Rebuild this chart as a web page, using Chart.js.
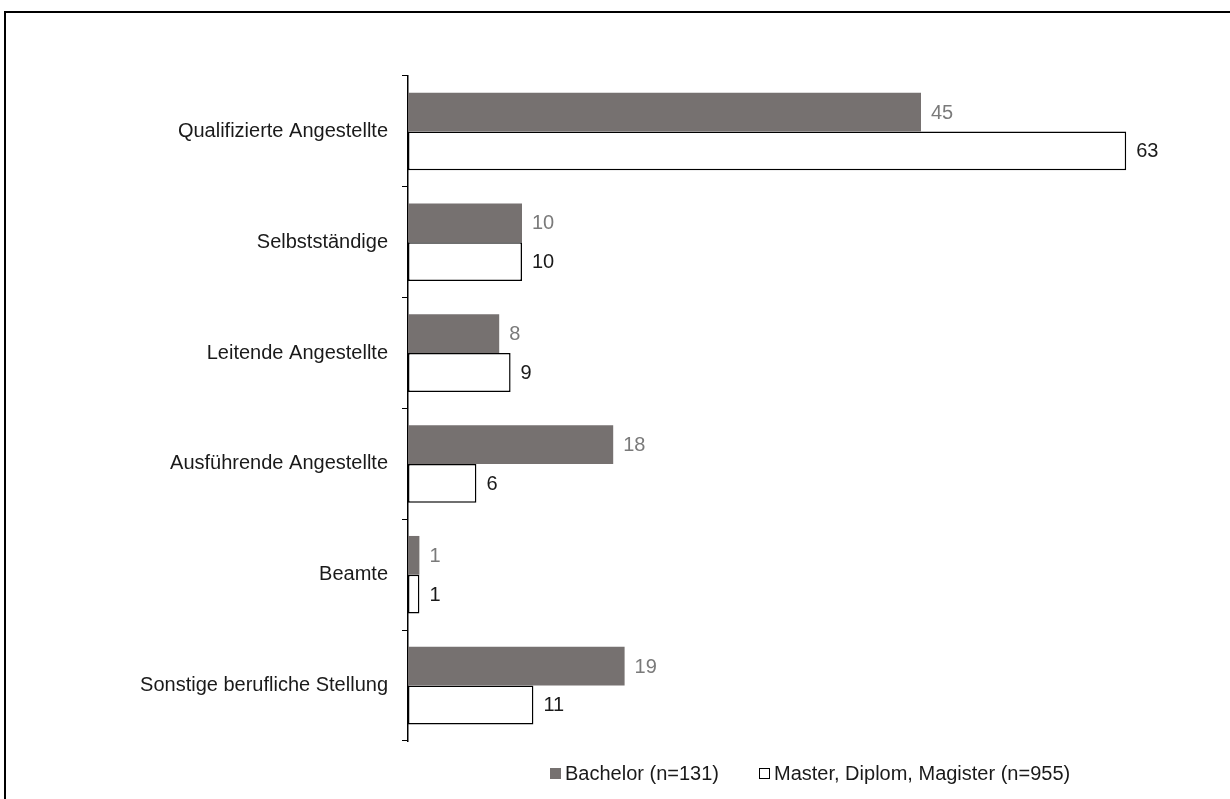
<!DOCTYPE html>
<html>
<head>
<meta charset="utf-8">
<script src="https://cdn.jsdelivr.net/npm/chart.js@4.4.1/dist/chart.umd.min.js"></script>
<style>
  html, body { margin: 0; padding: 0; background: #fff; overflow: hidden; }
  #wrap { position: relative; width: 1230px; height: 799px; }
  #frame { position: absolute; left: 4px; top: 11px; width: 1240px; height: 820px;
           border: 2px solid #000; box-sizing: border-box; }
  #chart { position: absolute; left: 0; top: 0; }
  #legend { position: absolute; left: 550px; top: 762px; display: flex; align-items: center;
            font-family: "Liberation Sans", Arial, sans-serif; font-size: 20px; color: #1a1a1a; }
  .item { display: flex; align-items: center; margin-right: 40px; }
  .box { width: 11px; height: 11px; box-sizing: border-box; margin-right: 4px; }
</style>
</head>
<body>
<div id="wrap">
  <div id="frame"></div>
  <canvas id="chart" width="1230" height="799"></canvas>
  <div id="legend"></div>
</div>
<script>
const categories = [
  "Qualifizierte Angestellte",
  "Selbstständige",
  "Leitende Angestellte",
  "Ausführende Angestellte",
  "Beamte",
  "Sonstige berufliche Stellung"
];
const bachelorValues = [45, 10, 8, 18, 1, 19];
const masterValues = [63, 10, 9, 6, 1, 11];
const seriesLabels = ["Bachelor (n=131)", "Master, Diplom, Magister (n=955)"];

const FONT = "'Liberation Sans', Arial, sans-serif";
const FONT_SIZE = 20;
const GREY = "#767170";

// writes each bar's value just past its end
const valueLabels = {
  id: "valueLabels",
  afterDatasetsDraw(chart) {
    const ctx = chart.ctx;
    ctx.save();
    ctx.font = FONT_SIZE + "px " + FONT;
    ctx.textBaseline = "middle";
    ctx.textAlign = "left";
    chart.data.datasets.forEach((ds, di) => {
      const meta = chart.getDatasetMeta(di);
      meta.data.forEach((bar, i) => {
        ctx.fillStyle = di === 0 ? "#7a7a7a" : "#1a1a1a";
        ctx.fillText(String(ds.data[i]), bar.x + 10, bar.y + 1);
      });
    });
    ctx.restore();
  }
};

const chart = new Chart(document.getElementById("chart"), {
  type: "bar",
  data: {
    labels: categories,
    datasets: [
      { label: seriesLabels[0], data: bachelorValues, backgroundColor: GREY,
        borderWidth: 0 },
      { label: seriesLabels[1], data: masterValues, backgroundColor: "#ffffff",
        borderColor: "#000000", borderWidth: 1.5, borderSkipped: false }
    ]
  },
  options: {
    indexAxis: "y",
    responsive: false,
    animation: false,
    devicePixelRatio: 1,
    layout: { padding: { left: 0, right: 24, top: 76, bottom: 58 } },
    datasets: { bar: { categoryPercentage: 0.7, barPercentage: 1.0 } },
    plugins: { legend: { display: false }, tooltip: { enabled: false } },
    scales: {
      x: { display: false, min: 0, max: 70 },
      y: {
        afterFit(scale) { scale.width = 408; },
        grid: { offset: true, drawOnChartArea: false, tickLength: 6, color: "#000", lineWidth: 1 },
        border: { display: true, color: "#000", width: 1.5 },
        ticks: { color: "#1a1a1a", padding: 14, font: { family: FONT, size: FONT_SIZE } }
      }
    }
  },
  plugins: [valueLabels]
});

// legend built from the dataset styles
const legend = document.getElementById("legend");
chart.data.datasets.forEach(ds => {
  const item = document.createElement("div");
  item.className = "item";
  const box = document.createElement("span");
  box.className = "box";
  box.style.background = ds.backgroundColor;
  if (ds.borderWidth) box.style.border = "1px solid #000";
  const txt = document.createElement("span");
  txt.textContent = ds.label;
  item.appendChild(box);
  item.appendChild(txt);
  legend.appendChild(item);
});
</script>
</body>
</html>
